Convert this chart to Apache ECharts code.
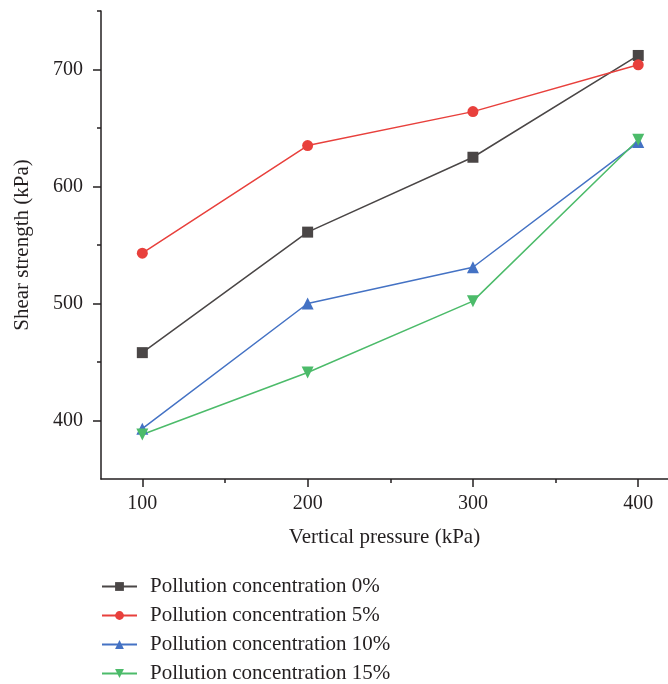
<!DOCTYPE html>
<html>
<head>
<meta charset="utf-8">
<script src="https://cdn.jsdelivr.net/npm/echarts@6/dist/echarts.min.js"></script>
<style>
  html, body { margin: 0; padding: 0; background: #fff; }
  #chart { width: 668px; height: 684px; }
</style>
</head>
<body>
<div id="chart"></div>
<script>
const pressures = [100, 200, 300, 400];
const conc0 = [458, 561, 625, 712];
const conc5 = [543, 635, 664, 704];
const conc10 = [393, 500, 531, 638];
const conc15 = [388, 441, 502, 640];
const seriesNames = [
  'Pollution concentration 0%',
  'Pollution concentration 5%',
  'Pollution concentration 10%',
  'Pollution concentration 15%'
];
const xMajor = [100, 200, 300, 400];
const xMinor = [150, 250, 350];
const yMajor = [400, 500, 600, 700];
const yMinor = [450, 550, 650, 750];

const font = 'Liberation Serif';
const ink = '#231f20';

function pairs(vals) {
  return pressures.map((p, i) => [p, vals[i]]);
}

function line(name, vals, color, symbol, size) {
  return {
    name: name,
    type: 'line',
    data: pairs(vals),
    symbol: symbol,
    symbolSize: size,
    lineStyle: { color: color, width: 1.5 },
    itemStyle: { color: color },
    emphasis: { disabled: true }
  };
}

const chart = echarts.init(document.getElementById('chart'));

chart.setOption({
  animation: false,
  textStyle: { fontFamily: font },
  grid: { left: 101, right: 0, top: 11, bottom: 205, containLabel: false },
  legend: {
    orient: 'vertical',
    left: 96,
    top: 571,
    height: 120,
    itemWidth: 35,
    itemHeight: 11,
    itemGap: 8,
    textStyle: { fontFamily: font, fontSize: 21, color: ink, padding: [0, 0, 0, 8] },
    data: seriesNames
  },
  xAxis: [{
    type: 'value',
    min: 75,
    max: 418,
    name: 'Vertical pressure (kPa)',
    nameLocation: 'middle',
    nameGap: 48,
    nameTextStyle: { fontFamily: font, fontSize: 21, color: ink },
    axisLine: { lineStyle: { color: ink, width: 1.5 } },
    axisTick: { customValues: xMajor, length: 8, lineStyle: { color: ink, width: 1.5 } },
    axisLabel: { customValues: xMajor, fontFamily: font, fontSize: 20, color: ink, margin: 15 },
    splitLine: { show: false }
  }, {
    type: 'value',
    min: 75,
    max: 418,
    position: 'bottom',
    axisLine: { show: false },
    axisTick: { customValues: xMinor, length: 4, lineStyle: { color: ink, width: 1.5 } },
    axisLabel: { show: false },
    splitLine: { show: false }
  }],
  yAxis: [{
    type: 'value',
    min: 350,
    max: 750,
    name: 'Shear strength (kPa)',
    nameLocation: 'middle',
    nameGap: 68,
    nameTextStyle: { fontFamily: font, fontSize: 21, color: ink },
    axisLine: { show: true, lineStyle: { color: ink, width: 1.5 } },
    axisTick: { show: true, customValues: yMajor, length: 8, lineStyle: { color: ink, width: 1.5 } },
    axisLabel: { customValues: yMajor, fontFamily: font, fontSize: 20, color: ink, margin: 18 },
    splitLine: { show: false }
  }, {
    type: 'value',
    min: 350,
    max: 750,
    position: 'left',
    axisLine: { show: false },
    axisTick: { show: true, customValues: yMinor, length: 4, lineStyle: { color: ink, width: 1.5 } },
    axisLabel: { show: false },
    splitLine: { show: false }
  }],
  series: [
    line(seriesNames[0], conc0, '#4a4646', 'rect', 11),
    line(seriesNames[1], conc5, '#e8403c', 'circle', 11),
    line(seriesNames[2], conc10, '#4472c4', 'triangle', 12),
    Object.assign(line(seriesNames[3], conc15, '#4cbb6a', 'triangle', 12), { symbolRotate: 180 })
  ]
});
</script>
</body>
</html>
